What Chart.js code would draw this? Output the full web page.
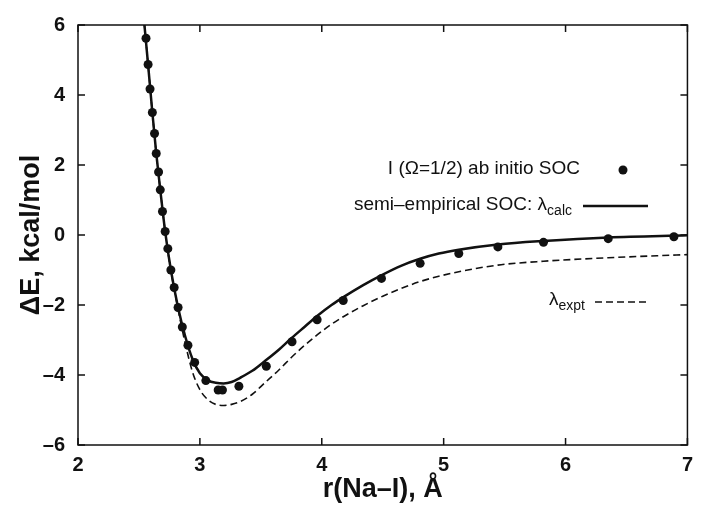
<!DOCTYPE html>
<html>
<head>
<meta charset="utf-8">
<script src="https://cdn.jsdelivr.net/npm/chart.js@4/dist/chart.umd.min.js"></script>
<style>
  html, body { margin: 0; padding: 0; background: #ffffff; }
  #wrap { width: 701px; height: 509px; }
</style>
</head>
<body>
<div id="wrap"><canvas id="c" width="701" height="509"></canvas></div>
<script>
// ---- data ----
const abInitioR = [2.558, 2.575, 2.591, 2.610, 2.628, 2.642, 2.661, 2.675, 2.693, 2.715, 2.737,
                   2.762, 2.789, 2.821, 2.856, 2.902, 2.957, 3.049, 3.150, 3.185, 3.320, 3.545,
                   3.756, 3.962, 4.176, 4.490, 4.807, 5.124, 5.445, 5.819, 6.350, 6.889];
const abInitioE = [5.62, 4.87, 4.17, 3.50, 2.90, 2.33, 1.80, 1.29, 0.67, 0.10, -0.39,
                   -1.00, -1.50, -2.07, -2.63, -3.15, -3.64, -4.16, -4.43, -4.43, -4.32, -3.75,
                   -3.05, -2.42, -1.87, -1.24, -0.81, -0.53, -0.34, -0.21, -0.105, -0.05];

const calcR = [2.545, 2.575, 2.610, 2.642, 2.675, 2.715, 2.762, 2.821, 2.880, 2.940, 3.000, 3.070,
               3.130, 3.195, 3.260, 3.330, 3.430, 3.534, 3.650, 3.750, 3.860, 3.967, 4.080, 4.184,
               4.340, 4.500, 4.650, 4.807, 4.960, 5.124, 5.445, 5.819, 6.350, 7.000];
const calcE = [6.00, 4.87, 3.50, 2.33, 1.29, 0.10, -1.00, -2.07, -2.90, -3.55, -3.95, -4.16,
               -4.22, -4.24, -4.20, -4.08, -3.88, -3.60, -3.27, -2.95, -2.62, -2.30, -2.00, -1.76,
               -1.43, -1.13, -0.88, -0.68, -0.53, -0.42, -0.27, -0.17, -0.07, -0.01];

const exptR = [2.545, 2.575, 2.610, 2.642, 2.675, 2.715, 2.762, 2.821, 2.880, 2.940, 3.000, 3.070,
               3.130, 3.195, 3.260, 3.330, 3.430, 3.534, 3.650, 3.750, 3.860, 3.967, 4.080, 4.184,
               4.340, 4.500, 4.650, 4.807, 4.960, 5.124, 5.445, 5.819, 6.350, 7.000];
const exptE = [6.00, 4.87, 3.50, 2.33, 1.29, 0.10, -1.02, -2.12, -3.10, -3.92, -4.42, -4.72,
               -4.84, -4.87, -4.84, -4.76, -4.55, -4.22, -3.85, -3.50, -3.15, -2.84, -2.55, -2.32,
               -2.02, -1.75, -1.53, -1.33, -1.18, -1.05, -0.86, -0.75, -0.65, -0.56];

const xTickLabels = ['2', '3', '4', '5', '6', '7'];
const yTickLabels = ['\u20136', '\u20134', '\u20132', '0', '2', '4', '6'];

const xTitle = 'r(Na\u2013I), \u00C5';
const yTitle = '\u0394E, kcal/mol';
const legendAbInitio = 'I (\u03A9=1/2) ab initio SOC';
const legendCalc = 'semi\u2013empirical SOC: \u03BB';
const legendCalcSub = 'calc';
const legendExpt = '\u03BB';
const legendExptSub = 'expt';

const toPts = (xs, ys) => xs.map((x, i) => ({ x: x, y: ys[i] }));

// frame + inward ticks on all four sides
const framePlugin = {
  id: 'frame',
  afterDatasetsDraw(chart) {
    const { ctx, chartArea: a, scales: { x, y } } = chart;
    ctx.save();
    ctx.strokeStyle = '#111';
    ctx.lineWidth = 1.5;
    ctx.strokeRect(a.left, a.top, a.right - a.left, a.bottom - a.top);
    const tl = 7;
    ctx.beginPath();
    x.ticks.forEach(t => {
      const px = x.getPixelForValue(t.value);
      ctx.moveTo(px, a.bottom); ctx.lineTo(px, a.bottom - tl);
      ctx.moveTo(px, a.top); ctx.lineTo(px, a.top + tl);
    });
    y.ticks.forEach(t => {
      const py = y.getPixelForValue(t.value);
      ctx.moveTo(a.left, py); ctx.lineTo(a.left + tl, py);
      ctx.moveTo(a.right, py); ctx.lineTo(a.right - tl, py);
    });
    ctx.stroke();
    ctx.restore();
  }
};

// in-plot legend, gnuplot style (right-aligned text, sample to the right)
const legendPlugin = {
  id: 'keyLegend',
  afterDraw(chart) {
    const ctx = chart.ctx;
    ctx.save();
    ctx.fillStyle = '#111';
    ctx.strokeStyle = '#111';
    ctx.textBaseline = 'middle';
    const f = '19px "Liberation Sans", Arial, sans-serif';
    const fs = '14px "Liberation Sans", Arial, sans-serif';

    // row 1
    ctx.font = f; ctx.textAlign = 'right';
    ctx.fillText(legendAbInitio, 580, 169);
    ctx.beginPath(); ctx.arc(623, 170, 4.5, 0, Math.PI * 2); ctx.fill();

    // row 2
    ctx.font = fs; const w2 = ctx.measureText(legendCalcSub).width;
    ctx.textAlign = 'left';
    ctx.fillText(legendCalcSub, 572 - w2, 211);
    ctx.font = f; ctx.textAlign = 'right';
    ctx.fillText(legendCalc, 572 - w2, 205);
    ctx.lineWidth = 2.5;
    ctx.beginPath(); ctx.moveTo(583, 206); ctx.lineTo(648, 206); ctx.stroke();

    // row 3
    ctx.font = fs; const w3 = ctx.measureText(legendExptSub).width;
    ctx.textAlign = 'left';
    ctx.fillText(legendExptSub, 585 - w3, 306);
    ctx.font = f; ctx.textAlign = 'right';
    ctx.fillText(legendExpt, 585 - w3, 300);
    ctx.lineWidth = 1.6;
    ctx.setLineDash([7, 4]);
    ctx.beginPath(); ctx.moveTo(595, 302); ctx.lineTo(650, 302); ctx.stroke();
    ctx.restore();
  }
};

const bgPlugin = {
  id: 'bg',
  beforeDraw(chart) {
    const ctx = chart.ctx;
    ctx.save();
    ctx.fillStyle = '#ffffff';
    ctx.fillRect(0, 0, chart.width, chart.height);
    ctx.restore();
  }
};

new Chart(document.getElementById('c'), {
  type: 'scatter',
  data: {
    datasets: [
      {
        label: 'expt',
        data: toPts(exptR, exptE),
        showLine: true,
        borderColor: '#111',
        borderWidth: 1.6,
        borderDash: [7, 4],
        pointRadius: 0,
        cubicInterpolationMode: 'monotone',
        order: 3
      },
      {
        label: 'calc',
        data: toPts(calcR, calcE),
        showLine: true,
        borderColor: '#111',
        borderWidth: 2.5,
        pointRadius: 0,
        cubicInterpolationMode: 'monotone',
        order: 2
      },
      {
        label: 'ab initio',
        data: toPts(abInitioR, abInitioE),
        showLine: false,
        pointRadius: 4.5,
        pointBackgroundColor: '#111',
        pointBorderColor: '#111',
        pointBorderWidth: 0,
        order: 1
      }
    ]
  },
  options: {
    responsive: false,
    animation: false,
    devicePixelRatio: 1,
    layout: { padding: { left: 0, right: 9, top: 21, bottom: 0 } },
    plugins: { legend: { display: false }, tooltip: { enabled: false } },
    scales: {
      x: {
        type: 'linear',
        min: 2, max: 7,
        grid: { display: false, drawTicks: false },
        border: { display: false },
        ticks: {
          stepSize: 1,
          color: '#111',
          padding: 8,
          maxRotation: 0,
          font: { family: '"Liberation Sans", Arial, sans-serif', size: 20, weight: 'bold' },
          callback: (v, i) => xTickLabels[i]
        },
        title: {
          display: true,
          text: xTitle,
          color: '#111',
          padding: { top: 0, bottom: 3 },
          font: { family: '"Liberation Sans", Arial, sans-serif', size: 27, weight: 'bold' }
        },
        afterFit: (s) => { s.height = 64; }
      },
      y: {
        type: 'linear',
        min: -6, max: 6,
        grid: { display: false, drawTicks: false },
        border: { display: false },
        ticks: {
          stepSize: 2,
          color: '#111',
          padding: 13,
          font: { family: '"Liberation Sans", Arial, sans-serif', size: 20, weight: 'bold' },
          callback: (v, i) => yTickLabels[i]
        },
        title: {
          display: true,
          text: yTitle,
          color: '#111',
          padding: { top: 15, bottom: 0 },
          font: { family: '"Liberation Sans", Arial, sans-serif', size: 27, weight: 'bold' }
        },
        afterFit: (s) => { s.width = 78; }
      }
    }
  },
  plugins: [bgPlugin, framePlugin, legendPlugin]
});
</script>
</body>
</html>
